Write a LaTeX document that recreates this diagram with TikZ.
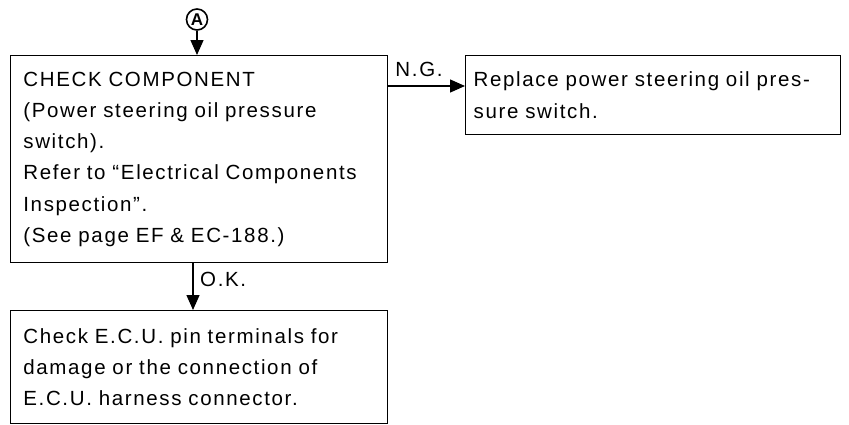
\documentclass[tikz,border=0pt]{standalone}
\usepackage{fontspec}
\setmainfont[LetterSpace=8]{Liberation Sans}
\newfontfamily\plainsans{Liberation Sans}
\usetikzlibrary{arrows.meta}
\begin{document}
\begin{tikzpicture}[x=1pt,y=-1pt,
  every node/.style={font=\fontsize{20.5}{31.2}\selectfont},
  box/.style={draw,line width=1.4pt,anchor=north west,align=left,inner ysep=0pt},
  arr/.style={line width=1.4pt,-{Triangle[length=15pt,width=13pt]}},
  lbl/.style={inner sep=0pt}]
\useasboundingbox (0,0) rectangle (849,424);
\node[draw,circle,line width=1.6pt,minimum size=21pt,inner sep=0pt,
  font=\plainsans\bfseries\fontsize{17}{17}\selectfont] (a) at (197,19.5) {A};
\node[box,inner xsep=12.7pt,text width=351.6pt,minimum height=207pt] (main) at (10,55)
 {CHECK COMPONENT\\(Power steering oil pressure\\switch).\\Refer to ``Electrical Components\\Inspection''.\\(See page EF \& EC-188.)};
\node[box,inner xsep=8pt,text width=359pt,minimum height=79pt] (rep) at (465,55)
 {Replace power steering oil pres-\\sure switch.};
\node[box,inner xsep=12.7pt,text width=351.6pt,minimum height=113pt] (bot) at (10,310)
 {Check E.C.U. pin terminals for\\damage or the connection of\\E.C.U. harness connector.};
\coordinate (ngy) at (0,86);
\coordinate (okx) at (193,0);
\draw[arr] (a.south) -- (a.south |- main.north);
\draw[arr] (ngy -| main.east) -- (ngy -| rep.west);
\draw[arr] (okx |- main.south) -- (okx |- bot.north);
\node[lbl,anchor=base] (ng) at (419,76.7) {N.G.};
\node[lbl,anchor=base west] (ok) at (200,286.7) {O.K.};
\end{tikzpicture}
\end{document}
